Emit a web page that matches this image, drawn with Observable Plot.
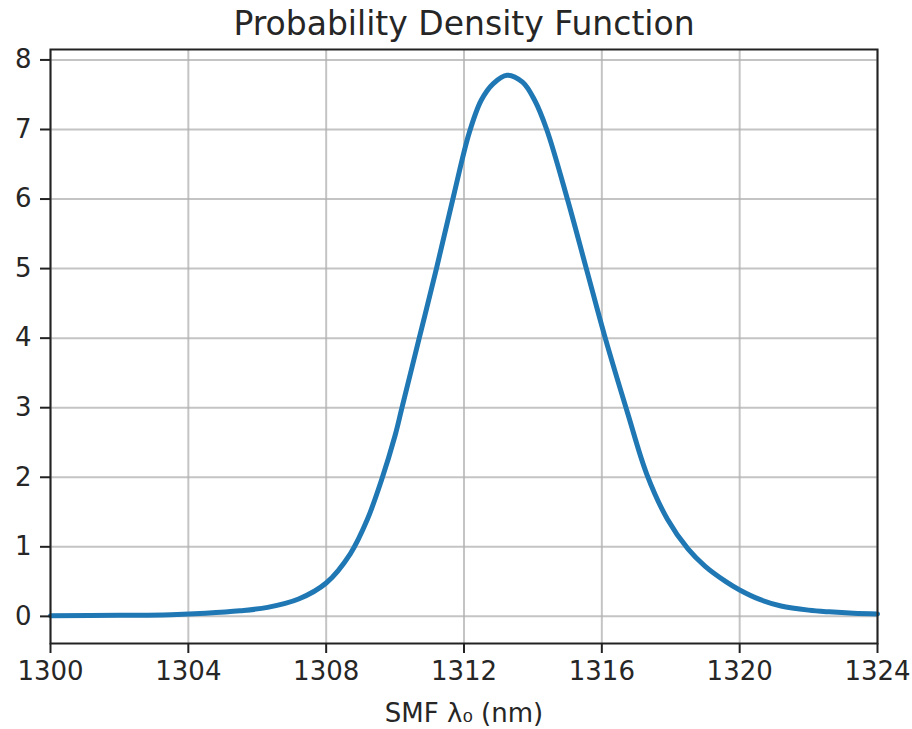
<!DOCTYPE html>
<html><head><meta charset="utf-8">
<script src="https://cdn.jsdelivr.net/npm/d3@7"></script>
<script src="https://cdn.jsdelivr.net/npm/@observablehq/plot@0.6"></script>
<style>
body{margin:0;background:#fff;font-family:"DejaVu Sans";}
#title{width:912px;height:44px;line-height:47px;font-size:33px;text-align:center;padding-left:16px;box-sizing:border-box;color:#262626;white-space:nowrap;overflow:hidden}
</style></head><body>
<div id="title">Probability Density Function</div>
<div id="chart"></div>
<script>
const wavelength = [1300, 1302, 1303.5, 1304.5, 1305.5, 1306.3, 1307.2, 1308.0, 1308.7, 1309.2, 1309.6, 1310.0, 1310.2, 1310.7, 1311.2, 1311.7, 1312.15, 1312.5, 1312.85, 1313.25, 1313.7, 1314.05, 1314.4, 1315.0, 1315.55, 1316.1, 1316.75, 1317.3, 1317.9, 1318.5, 1319.0, 1319.6, 1320.0, 1320.6, 1321.2, 1322.0, 1322.6, 1323.3, 1324];
const density = [0.01, 0.015, 0.025, 0.045, 0.08, 0.13, 0.25, 0.48, 0.90, 1.40, 1.95, 2.6, 3.0, 4.0, 5.0, 6.05, 6.95, 7.42, 7.66, 7.78, 7.68, 7.42, 7.0, 6.0, 5.0, 4.0, 2.92, 2.05, 1.40, 0.97, 0.72, 0.50, 0.38, 0.24, 0.15, 0.09, 0.065, 0.045, 0.035];
const xTicks = [1300, 1304, 1308, 1312, 1316, 1320, 1324];
const yTicks = [0, 1, 2, 3, 4, 5, 6, 7, 8];
const xLabel = "SMF λ₀ (nm)";

const data = wavelength.map((x, i) => ({x, y: density[i]}));

const plot = Plot.plot({
  width: 912, height: 685,
  marginLeft: 50, marginRight: 35, marginTop: 5, marginBottom: 86,
  style: {fontFamily: "DejaVu Sans", fontSize: "26px", color: "#262626", background: "#fff"},
  x: {domain: [1300, 1324]},
  y: {domain: [-0.39, 8.15]},
  marks: [
    Plot.gridX(xTicks, {stroke: "#b0b0b0", strokeOpacity: 0.75, strokeWidth: 2}),
    Plot.gridY(yTicks, {stroke: "#b0b0b0", strokeOpacity: 0.75, strokeWidth: 2}),
    Plot.line(data, {x: "x", y: "y", stroke: "#1f77b4", strokeWidth: 5, curve: "catmull-rom"}),
    Plot.frame({stroke: "#222", strokeWidth: 2}),
    Plot.axisX(xTicks, {tickSize: 10, tickPadding: 8, strokeWidth: 2, stroke: "#222", tickFormat: d => String(d), label: xLabel, labelAnchor: "center", labelArrow: "none", labelOffset: 78}),
    Plot.axisY(yTicks, {tickSize: 10, tickPadding: 9, strokeWidth: 2, stroke: "#222", tickFormat: d => String(d), label: null})
  ]
});
document.getElementById("chart").appendChild(plot);
</script>
</body></html>
